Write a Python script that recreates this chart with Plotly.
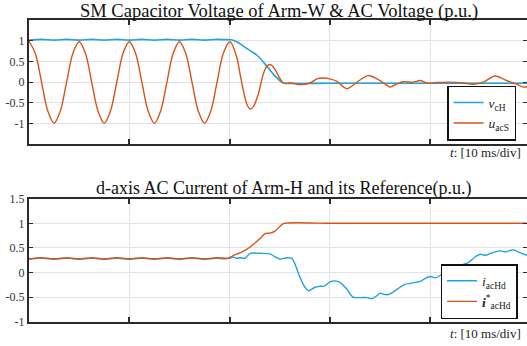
import plotly.graph_objects as go

# ---------------- data (time in ms, values in p.u.) ----------------
# Top panel: SM capacitor voltage v_cH
t_vcH = [0.0, 1.25, 2.5, 3.75, 5.0, 6.25, 7.5, 8.75, 10.0, 11.25, 12.5, 13.75, 15.0,
         16.25, 17.5, 18.75, 20.0, 20.2, 20.7, 21.7, 22.7, 23.5, 24.0, 24.5, 25.2,
         25.5, 30.0, 35.0, 40.0, 45.0, 49.65]
v_vcH = [1.02, 1.04, 1.02, 1.04, 1.02, 1.04, 1.02, 1.04, 1.02, 1.04, 1.02, 1.04, 1.02,
         1.04, 1.02, 1.04, 1.03, 1.03, 0.98, 0.82, 0.66, 0.45, 0.30, 0.16, 0.0,
         -0.025, -0.025, -0.025, -0.025, -0.025, -0.025]

# Top panel: AC voltage u_acS
t_uacS = [0.0, 0.625, 1.25, 1.875, 2.5, 3.125, 3.75, 4.375, 5.0, 5.625, 6.25, 6.875,
          7.5, 8.125, 8.75, 9.375, 10.0, 10.625, 11.25, 11.875, 12.5, 13.125, 13.75,
          14.375, 15.0, 15.625, 16.25, 16.875, 17.5, 18.125, 18.75, 19.375, 20.04,
          20.71, 21.04, 21.37, 21.71, 22.03, 22.36, 22.86, 23.36, 23.70, 24.03, 24.36,
          24.86, 25.35, 26.19, 27.02, 28.02, 28.7, 29.3, 30.0, 30.7, 31.7, 32.7, 33.8,
          34.7, 35.7, 36.0, 36.7, 37.3, 38.3, 39.0, 39.65, 40.65, 42.0, 43.3, 44.3,
          45.3, 46.46, 47.6, 48.6, 49.3, 49.65]
v_uacS = [1.0, 0.70, 0.0, -0.70, -1.0, -0.70, 0.0, 0.70, 0.98, 0.70, 0.0, -0.70,
          -1.0, -0.70, 0.0, 0.70, 0.98, 0.70, 0.0, -0.70, -1.0, -0.70, 0.0,
          0.70, 0.98, 0.70, 0.0, -0.70, -1.0, -0.70, 0.0, 0.70, 0.98,
          0.61, 0.20, -0.20, -0.53, -0.65, -0.60, -0.29, 0.20, 0.38, 0.43, 0.37,
          0.16, -0.02, -0.02, -0.06, -0.02, 0.08, 0.10, 0.08, 0.02, -0.16, 0.0, 0.16,
          0.08, -0.08, -0.12, -0.04, 0.01, 0.0, 0.04, -0.02, -0.01, 0.0, -0.02, -0.05,
          0.0, 0.15, 0.04, -0.05, -0.12, -0.11]

# Bottom panel: d-axis AC current i_acHd
t_iacHd = [0.0, 1.25, 2.5, 3.75, 5.0, 6.25, 7.5, 8.75, 10.0, 11.25, 12.5, 13.75, 15.0,
           16.25, 17.5, 18.75, 19.71, 20.21, 20.71, 21.04, 21.54, 22.04, 23.03, 24.03,
           24.53, 25.02, 25.69, 26.19, 26.52, 27.02, 27.52, 27.85, 28.51, 29.0, 29.5,
           30.0, 30.5, 31.0, 31.7, 32.3, 33.0, 33.7, 34.2, 34.7, 35.0, 35.3, 35.8,
           36.3, 37.0, 37.5, 38.0, 38.5, 39.0, 39.5, 40.0, 40.5, 41.0, 41.5, 42.0,
           42.5, 43.0, 43.8, 44.5, 45.0, 45.5, 46.0, 46.5, 47.0, 47.5, 48.0, 48.3,
           49.0, 49.65]
v_iacHd = [0.28, 0.29, 0.28, 0.29, 0.28, 0.29, 0.28, 0.29, 0.28, 0.29, 0.28, 0.29, 0.28,
           0.29, 0.28, 0.29, 0.28, 0.32, 0.29, 0.30, 0.29, 0.39, 0.39, 0.38,
           0.32, 0.27, 0.30, 0.29, 0.17, -0.10, -0.30, -0.37, -0.30, -0.28, -0.27,
           -0.19, -0.17, -0.20, -0.34, -0.50, -0.51, -0.51, -0.53, -0.47, -0.42, -0.44, -0.45,
           -0.40, -0.30, -0.24, -0.22, -0.20, -0.18, -0.12, -0.08, -0.11, -0.06, 0.03, 0.10,
           0.11, 0.15, 0.20, 0.32, 0.37, 0.35, 0.39, 0.42, 0.44, 0.42, 0.45, 0.46,
           0.40, 0.35]

# Bottom panel: reference i*_acHd
t_iref = [0.0, 1.25, 2.5, 3.75, 5.0, 6.25, 7.5, 8.75, 10.0, 11.25, 12.5, 13.75, 15.0,
          16.25, 17.5, 18.75, 20.04, 20.37, 21.04, 21.7, 22.36, 23.03, 23.53, 24.03,
          24.53, 25.02, 25.42, 30.0, 35.0, 40.0, 45.0, 49.65]
v_iref = [0.27, 0.30, 0.27, 0.30, 0.27, 0.30, 0.27, 0.30, 0.27, 0.30, 0.27, 0.30, 0.27,
          0.30, 0.27, 0.30, 0.29, 0.35, 0.40, 0.47, 0.57, 0.69, 0.79, 0.80,
          0.84, 0.94, 1.0, 1.0, 1.0, 1.0, 1.0, 1.0]

x_grid = [0, 10, 20, 30, 40, 50]
y1_ticks = [-1, -0.5, 0, 0.5, 1]
y1_text = ["-1", "-0.5", "0", "0.5", "1"]
y2_ticks = [-1, -0.5, 0, 0.5, 1, 1.5]
y2_text = ["-1", "-0.5", "0", "0.5", "1", "1.5"]

title_top = "SM Capacitor Voltage of Arm-W & AC Voltage (p.u.)"
title_bot = "d-axis AC Current of Arm-H and its Reference(p.u.)"
xlabel = "<i>t</i>: [10 ms/div]"

# ---------------- styling ----------------
BLUE = "#1ea3dc"
ORANGE = "#d95319"
SERIF = "Liberation Serif"
AXC = "#2b2b2b"
GRID = "#e2e2e2"

fig = go.Figure()
fig.add_trace(go.Scatter(x=t_vcH, y=v_vcH, mode="lines", line=dict(color=BLUE, width=1.6, shape="spline", smoothing=0.8),
                         name="<i>v</i><sub>cH</sub>", xaxis="x", yaxis="y", legend="legend"))
fig.add_trace(go.Scatter(x=t_uacS, y=v_uacS, mode="lines", line=dict(color=ORANGE, width=1.4, shape="spline", smoothing=0.9),
                         name="<i>u</i><sub>acS</sub>", xaxis="x", yaxis="y", legend="legend"))
fig.add_trace(go.Scatter(x=t_iacHd, y=v_iacHd, mode="lines", line=dict(color=BLUE, width=1.4, shape="spline", smoothing=0.8),
                         name="<i>i</i><sub>acHd</sub>", xaxis="x2", yaxis="y2", legend="legend2"))
fig.add_trace(go.Scatter(x=t_iref, y=v_iref, mode="lines", line=dict(color=ORANGE, width=1.4, shape="spline", smoothing=0.6),
                         name="<b><i>i</i></b><sup>*</sup><sub>acHd</sub>", xaxis="x2", yaxis="y2", legend="legend2"))

xcommon = dict(range=[0, 49.65], tickvals=x_grid, showticklabels=False, ticks="inside", ticklen=5,
               tickwidth=1.5, tickcolor=AXC, showgrid=True, gridcolor=GRID, gridwidth=1,
               showline=True, linecolor=AXC, linewidth=2, mirror="ticks", zeroline=False)
ycommon = dict(ticks="inside", ticklen=4, tickwidth=1.2, tickcolor=AXC, showgrid=True, gridcolor=GRID,
               gridwidth=1, showline=True, linecolor=AXC, linewidth=2, mirror="ticks", zeroline=False,
               tickfont=dict(family=SERIF, size=12, color="#333333"))

legcommon = dict(xanchor="right", yanchor="bottom", bgcolor="white", bordercolor="#111111", borderwidth=1.5,
                 font=dict(family=SERIF, size=13.5, color="#222"), itemwidth=30, tracegroupgap=0)

fig.update_layout(
    width=527, height=346,
    margin=dict(l=29, r=0, t=0, b=0, autoexpand=False),
    paper_bgcolor="white", plot_bgcolor="white",
    showlegend=True,
    xaxis=dict(domain=[0, 1], anchor="y", **xcommon),
    xaxis2=dict(domain=[0, 1], anchor="y2", **xcommon),
    yaxis=dict(domain=[0.5841, 0.9410], anchor="x", range=[-1.5, 1.5], tickvals=y1_ticks, ticktext=y1_text, **ycommon),
    yaxis2=dict(domain=[0.0702, 0.4257], anchor="x2", range=[-1, 1.5], tickvals=y2_ticks, ticktext=y2_text, **ycommon),
    legend=dict(x=0.978, y=0.5934, **legcommon),
    legend2=dict(x=0.981, y=0.078, **legcommon),
    annotations=[
        dict(text=title_top, x=0.503, y=0.968, xref="paper", yref="paper", xanchor="center", yanchor="middle",
             showarrow=False, font=dict(family=SERIF, size=18.5, color="#111")),
        dict(text=title_bot, x=0.511, y=0.454, xref="paper", yref="paper", xanchor="center", yanchor="middle",
             showarrow=False, font=dict(family=SERIF, size=18, color="#111")),
        dict(text=xlabel, x=0.992, y=0.558, xref="paper", yref="paper", xanchor="right", yanchor="middle",
             showarrow=False, font=dict(family=SERIF, size=13, color="#222")),
        dict(text=xlabel, x=0.992, y=0.0347, xref="paper", yref="paper", xanchor="right", yanchor="middle",
             showarrow=False, font=dict(family=SERIF, size=13, color="#222")),
    ],
)

fig.write_html("out.html")
